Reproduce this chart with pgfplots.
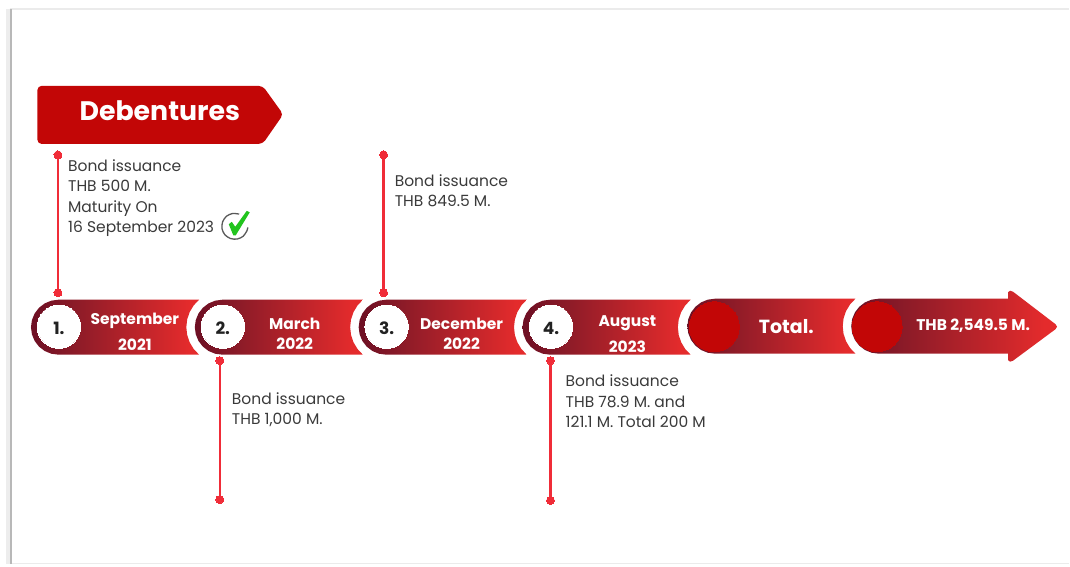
\documentclass[border=0pt]{standalone}
\usepackage{fontspec}
\setmainfont{Poppins}
\usepackage{pgfplots}
\usepackage{pgfplotstable}
\pgfplotsset{compat=1.18}

\definecolor{ribbondark}{HTML}{6F1024}
\definecolor{ribbonmid}{HTML}{8C1B28}
\definecolor{ribbonred}{HTML}{E42B2C}
\definecolor{bannerred}{HTML}{C20606}
\definecolor{stemred}{HTML}{F02C38}
\definecolor{bodytext}{HTML}{3A3A3A}
\definecolor{ticknum}{HTML}{222222}
\definecolor{checkgreen}{HTML}{22C41E}

% the box keeps 25bp..75bp as the path's extent
\pgfdeclarehorizontalshading{ribbon}{100bp}{color(0bp)=(ribbondark); color(26bp)=(ribbondark); color(38bp)=(ribbonmid); color(72bp)=(ribbonred); color(100bp)=(ribbonred)}

% outline of one ribbon piece, page pixels, y downwards
\pgfplotstableread{
x y
58.5 300
199.27 300
193.94 305.58
189.87 312.29
187.35 319.71
186.5 327.5
187.35 335.29
189.87 342.71
193.94 349.42
199.27 355
58.5 355
51.38 354.06
44.75 351.32
39.05 346.95
34.68 341.25
31.94 334.62
31 327.5
31.94 320.38
34.68 313.75
39.05 308.05
44.75 303.68
51.38 300.94
}\segshape

\newcommand{\bodyline}[3]{\node[anchor=base west,inner sep=0pt,text=bodytext,font=\fontsize{15.5}{18}\selectfont] at (axis cs:#1,#2) {#3};}
\newcommand{\seglabel}[3]{\node[text=white,font=\fontsize{15.5}{18}\selectfont\bfseries] at (axis cs:#1,#2) {#3};}

\begin{document}
\begin{tikzpicture}
\begin{axis}[
  scale only axis, width=1070pt, height=565pt,
  xmin=0, xmax=1070, ymin=0, ymax=565, y dir=reverse,
  hide axis, clip=false,
]
\path (axis cs:0,0) rectangle (axis cs:1070,565);
% page edge
\addplot[draw=black!8, line width=2pt] coordinates {(10,9) (1070,9)};
\addplot[draw=black!8, line width=1pt] coordinates {(10,564.5) (1070,564.5)};
\addplot[draw=black!7, line width=4pt] coordinates {(8,9) (8,565)};
\addplot[draw=black!28, line width=2pt] coordinates {(11,9) (11,565)};

% banner
\addplot[draw=none, fill=bannerred, rounded corners=4pt] coordinates {
  (37.5,86) (263,86) (283.5,114.5) (263,144) (37.5,144)} --cycle;

% stems
\addplot[draw=stemred, line width=2.4pt] coordinates {(58,155) (58,293)};
\addplot[draw=stemred, line width=2.4pt] coordinates {(220,361) (220,500)};
\addplot[draw=stemred, line width=2.4pt] coordinates {(384,155) (384,293)};
\addplot[draw=stemred, line width=2.4pt] coordinates {(551,361) (551,501)};
\addplot[only marks, mark=*, mark size=4pt, mark options={draw=stemred, fill=stemred, line width=0pt}] coordinates {
  (58,155) (58,293) (220,361) (220,500) (384,155) (384,293) (551,361) (551,501)};

% ribbon pieces
\addplot[draw=none, shade, shading=ribbon] table[x=x, y=y] {\segshape} --cycle;
\addplot[draw=none, shade, shading=ribbon] table[x expr=\thisrow{x}+164, y=y] {\segshape} --cycle;
\addplot[draw=none, shade, shading=ribbon] table[x expr=\thisrow{x}+328, y=y] {\segshape} --cycle;
\addplot[draw=none, shade, shading=ribbon] table[x expr=\thisrow{x}+492, y=y] {\segshape} --cycle;
\addplot[draw=none, shade, shading=ribbon] table[x expr=\thisrow{x}+657, y expr=\thisrow{y}-1] {\segshape} --cycle;
\addplot[draw=none, shade, shading=ribbon] coordinates {
  (879.5,299) (1009,299) (1009,292.5) (1011,291) (1014,292) (1056.5,324.5) (1058,327)
  (1056.5,329.5) (1014,361) (1011,362) (1009,360.5) (1009,354) (879.5,354)
  (872.38,353.06) (865.75,350.32) (860.05,345.95) (855.68,340.25) (852.94,333.62) (852,326.5)
  (852.94,319.38) (855.68,312.75) (860.05,307.05) (865.75,302.68) (872.38,299.94)} --cycle;

% discs
\addplot[only marks, mark=*, mark size=21.7pt, mark options={draw=white, fill=white, line width=0pt},
  nodes near coords, point meta=explicit symbolic,
  every node near coord/.append style={anchor=center, yshift=-1.5pt, text=ticknum, font=\fontsize{17}{20}\selectfont\bfseries}]
  coordinates {(59,327) [1.] (223,327) [2.] (387,327) [3.] (551.5,327) [4.]};
\addplot[only marks, mark=*, mark size=25pt, mark options={draw=bannerred, fill=bannerred, line width=0pt}] coordinates {
  (715,327) (878,327)};

% check sign
\addplot[draw=black!65, line width=1.3pt, smooth] coordinates {
  (239.4,214.3) (232.7,213.7) (226.6,216.5) (222.8,222.1) (222.2,228.8) (225,234.9)
  (230.6,238.7) (237.3,239.3) (243.4,236.5) (247.2,230.9) (248,227.6)};
\addplot[draw=none, fill=checkgreen] coordinates {
  (229,224.5) (232,222) (235.5,227) (247,211) (250,212.5) (236,235.5) (233.5,235.5)} --cycle;

% text
\node[text=white,font=\fontsize{26.8}{30}\selectfont\bfseries] at (axis cs:160,111) {Debentures};

\seglabel{135}{321.5}{September}
\seglabel{135}{345.5}{2021}
\seglabel{295}{324}{March}
\seglabel{295}{344}{2022}
\seglabel{462}{324}{December}
\seglabel{462}{344}{2022}
\seglabel{628}{323}{August}
\seglabel{628}{347.5}{2023}
\node[text=white,font=\fontsize{19}{22}\selectfont\bfseries] at (axis cs:787,327) {Total.};
\node[text=white,font=\fontsize{15.5}{18}\selectfont\bfseries] at (axis cs:974,326.5) {THB 2,549.5 M.};

\bodyline{68}{172}{Bond issuance}
\bodyline{68}{192}{THB 500 M.}
\bodyline{68}{213}{Maturity On}
\bodyline{68}{233}{16 September 2023}
\bodyline{395}{187}{Bond issuance}
\bodyline{395}{207}{THB 849.5 M.}
\bodyline{232}{405}{Bond issuance}
\bodyline{232}{425}{THB 1,000 M.}
\bodyline{566}{387}{Bond issuance}
\bodyline{566}{408}{THB 78.9 M. and}
\bodyline{566}{428}{121.1 M. Total 200 M}
\end{axis}
\end{tikzpicture}
\end{document}
